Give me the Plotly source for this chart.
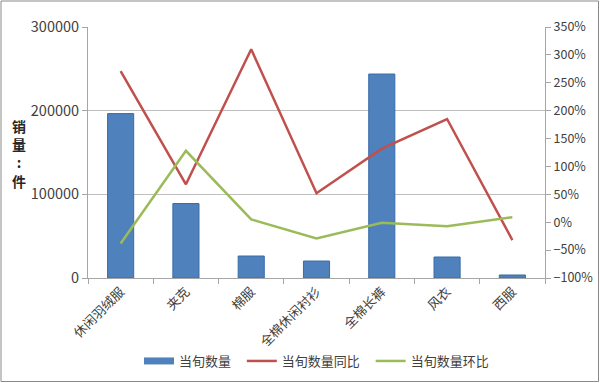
import plotly.graph_objects as go

categories = ["休闲羽绒服", "夹克", "棉服", "全棉休闲衬衫", "全棉长裤", "风衣", "西服"]
qty = [196500, 89000, 26300, 20300, 243800, 25100, 3600]
yoy = [271, 68, 310, 52, 132, 185, -32]
mom = [-38, 128, 5, -29, -1, -7, 9]
series_names = ["当旬数量", "当旬数量同比", "当旬数量环比"]

FONT = "Noto Sans CJK SC"
L, R, T, B = 88, 55, 27, 105
W, H = 600, 383
pw, ph = W - L - R, H - T - B

BLUE, RED, GREEN = "#4F81BD", "#C0504D", "#9BBB59"
pad = "\u00a0\u00a0"
fig = go.Figure()
fig.add_trace(go.Bar(x=categories, y=qty, name=series_names[0], showlegend=False,
                     marker=dict(color=BLUE, line=dict(color="#3A6CA8", width=1)),
                     yaxis="y"))
# legend swatch for the bar series (wide rectangle like the original)
fig.add_trace(go.Scatter(x=[None], y=[None], name=series_names[0] + pad, mode="lines",
                         line=dict(color=BLUE, width=7), yaxis="y"))
fig.add_trace(go.Scatter(x=categories, y=yoy, name=series_names[1] + pad, mode="lines",
                         line=dict(color=RED, width=2.5), yaxis="y2"))
fig.add_trace(go.Scatter(x=categories, y=mom, name=series_names[2], mode="lines",
                         line=dict(color=GREEN, width=2.5), yaxis="y2"))

def px_x(p):
    return (p - L) / pw
def px_y(p):
    return (H - B - p) / ph

fig.update_layout(
    width=W, height=H,
    margin=dict(l=L, r=R, t=T, b=B, autoexpand=False),
    plot_bgcolor="white", paper_bgcolor="white",
    font=dict(family=FONT, size=12, color="#404040"),
    bargap=0.6,
    showlegend=True,
    legend=dict(orientation="h", x=0.5, xanchor="center", y=px_y(361), yanchor="middle",
                font=dict(size=13, color="#404040"), itemwidth=30, tracegroupgap=0),
    xaxis=dict(type="category", showline=True, linecolor="#A6A6A6", linewidth=1,
               ticks="outside", tickson="boundaries", ticklen=5, tickcolor="#A6A6A6",
               tickangle=-45, tickfont=dict(size=13, color="#404040"),
               showgrid=False, zeroline=False, automargin=False),
    yaxis=dict(range=[0, 300000], dtick=100000, tickformat="d",
               showline=True, linecolor="#A6A6A6", linewidth=1,
               ticks="outside", ticklen=5, tickcolor="#A6A6A6",
               showgrid=True, gridcolor="#BFBFBF", gridwidth=1, zeroline=False,
               tickfont=dict(size=14.5, color="#404040"), automargin=False),
    yaxis2=dict(range=[-100, 350], dtick=50, ticksuffix="%", overlaying="y", side="right",
                showline=True, linecolor="#A6A6A6", linewidth=1,
                ticks="outside", ticklen=5, tickcolor="#A6A6A6",
                showgrid=False, zeroline=False, automargin=False,
                tickfont=dict(size=12.5, color="#404040")),
    annotations=[dict(text="<b>销<br>量<br>:<br>件</b>", xref="paper", yref="paper",
                      x=px_x(19), y=px_y(153), showarrow=False, xanchor="center", yanchor="middle",
                      font=dict(size=14, color="#262626", family=FONT), align="center")],
    shapes=[dict(type="rect", xref="paper", yref="paper",
                 x0=px_x(1), x1=px_x(598.5), y0=px_y(381.5), y1=px_y(1),
                 line=dict(color="#898989", width=1), fillcolor="rgba(0,0,0,0)")],
)

fig.write_html("out.html", config={"displayModeBar": False},
               post_script="document.body.style.margin='0';document.body.style.overflow='hidden';")
